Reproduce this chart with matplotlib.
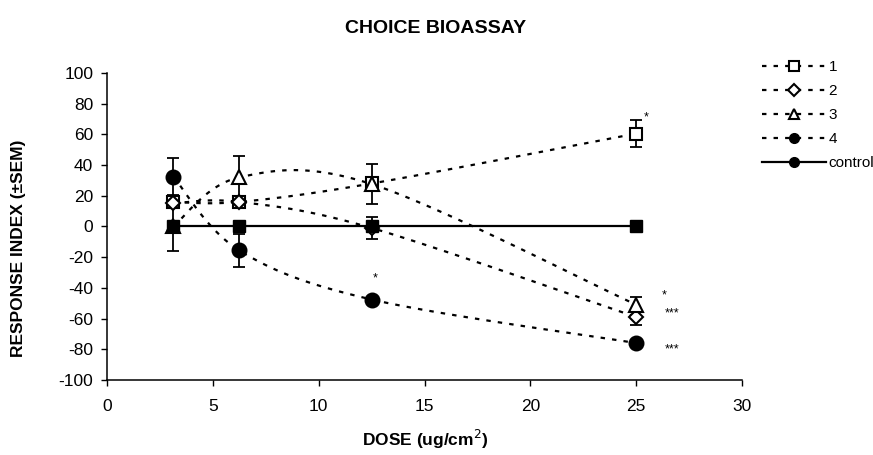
import numpy as np
import matplotlib
matplotlib.use("Agg")
import matplotlib.pyplot as plt
from matplotlib.lines import Line2D

plt.rcParams['font.family'] = ['Liberation Sans', 'DejaVu Sans']
plt.rcParams['axes.unicode_minus'] = False

dose = [3.125, 6.25, 12.5, 25]
s1 = [16, 16, 28, 60.5]
s1_err = [0, 0, 0, 9]
s2 = [15, 16, -1, -59]
s2_err = [0, 0, 7, 5]
s3 = [0, 32, 27.6, -51]
s3_err = [16, 14, 13, 5]
s4 = [32.5, -15.6, -47.6, -76]
s4_err = [12, 11, 0, 0]
control = [0, 0, 0, 0]
control_err = [0, 0, 0, 2]
labels = ['1', '2', '3', '4', 'control']

sig_x = [25.45, 12.65, 26.3, 26.7, 26.7]
sig_y = [71, -34, -45, -57, -80]
sig_txt = ['*', '*', '*', '***', '***']


def smooth(x, y, n=40):
    """Catmull-Rom (Excel-like smoothed line) through the points."""
    P = np.column_stack([x, y]).astype(float)
    out = []
    m = len(P)
    for i in range(m - 1):
        p0 = P[i - 1] if i > 0 else P[i]
        p1 = P[i]
        p2 = P[i + 1]
        p3 = P[i + 2] if i + 2 < m else P[i + 1]
        c1 = p1 + (p2 - p0) / 6.0
        c2 = p2 - (p3 - p1) / 6.0
        t = np.linspace(0, 1, n)[:, None]
        b = ((1 - t) ** 3) * p1 + 3 * ((1 - t) ** 2) * t * c1 + 3 * (1 - t) * t ** 2 * c2 + t ** 3 * p2
        out.append(b if i == 0 else b[1:])
    B = np.vstack(out)
    return B[:, 0], B[:, 1]


fig = plt.figure(figsize=(8.73, 4.55), dpi=100)
ax = fig.add_axes([0.1226, 0.165, 0.7274, 0.6746])

dash = (0, (2, 3.2))
series = [
    (s1, s1_err, 's', 'white', 9),
    (s2, s2_err, 'D', 'white', 7.5),
    (s3, s3_err, '^', 'white', 9.5),
    (s4, s4_err, 'o', 'black', 10),
]
for vals, err, mk, fc, ms in series:
    sx, sy = smooth(dose, vals)
    ax.plot(sx, sy, color='black', linestyle=dash, linewidth=1.6, zorder=2)
    ax.errorbar(dose, vals, yerr=err, fmt='none', ecolor='black', elinewidth=1.3,
                capsize=4.5, capthick=1.3, zorder=3)
    ax.plot(dose, vals, linestyle='none', marker=mk, markersize=ms, markerfacecolor=fc,
            markeredgecolor='black', markeredgewidth=1.5, zorder=4)

ax.errorbar(dose, control, yerr=control_err, fmt='none', ecolor='black', elinewidth=1.3,
            capsize=4.5, capthick=1.3, zorder=3)
ax.plot(dose, control, color='black', linestyle='-', linewidth=1.6, marker='s',
        markersize=8, markerfacecolor='black', markeredgecolor='black', zorder=5)

for xx, yy, t in zip(sig_x, sig_y, sig_txt):
    ax.text(xx, yy, t, fontsize=9, ha='center', va='center')

ax.set_xlim(0, 30)
ax.set_ylim(-100, 100)
ax.set_xticks(np.arange(0, 31, 5))
ax.set_yticks(np.arange(-100, 101, 20))
ax.tick_params(axis='both', labelsize=12.5, direction='out', length=4, width=1)
ax.tick_params(axis='x', pad=10)
ax.tick_params(axis='y', pad=6)
ax.spines['top'].set_visible(False)
ax.spines['right'].set_visible(False)
ax.spines['left'].set_linewidth(1.1)
ax.spines['bottom'].set_linewidth(1.1)

ax.set_xlabel('DOSE (ug/cm$^2$)', fontsize=12.5, fontweight='bold')
ax.xaxis.set_label_coords(0.501, -0.155)
ax.set_ylabel('RESPONSE INDEX (\u00b1SEM)', fontsize=12.5, fontweight='bold')
ax.yaxis.set_label_coords(-0.128, 0.43)
fig.text(0.499, 0.938, 'CHOICE BIOASSAY', fontsize=14, fontweight='bold', ha='center', va='center')

handles = [
    Line2D([], [], color='black', linestyle=dash, linewidth=1.6, marker='s', markersize=7,
           markerfacecolor='white', markeredgewidth=1.5),
    Line2D([], [], color='black', linestyle=dash, linewidth=1.6, marker='D', markersize=6,
           markerfacecolor='white', markeredgewidth=1.5),
    Line2D([], [], color='black', linestyle=dash, linewidth=1.6, marker='^', markersize=7,
           markerfacecolor='white', markeredgewidth=1.5),
    Line2D([], [], color='black', linestyle=dash, linewidth=1.6, marker='o', markersize=7,
           markerfacecolor='black'),
    Line2D([], [], color='black', linestyle='-', linewidth=1.6, marker='o', markersize=7,
           markerfacecolor='black'),
]
fig.legend(handles, labels, loc='upper left', bbox_to_anchor=(0.873, 0.868), frameon=False,
           fontsize=11, handlelength=4.2, handletextpad=0.15, labelspacing=0.66,
           borderaxespad=0, borderpad=0)

fig.savefig('out.png', dpi=100)
